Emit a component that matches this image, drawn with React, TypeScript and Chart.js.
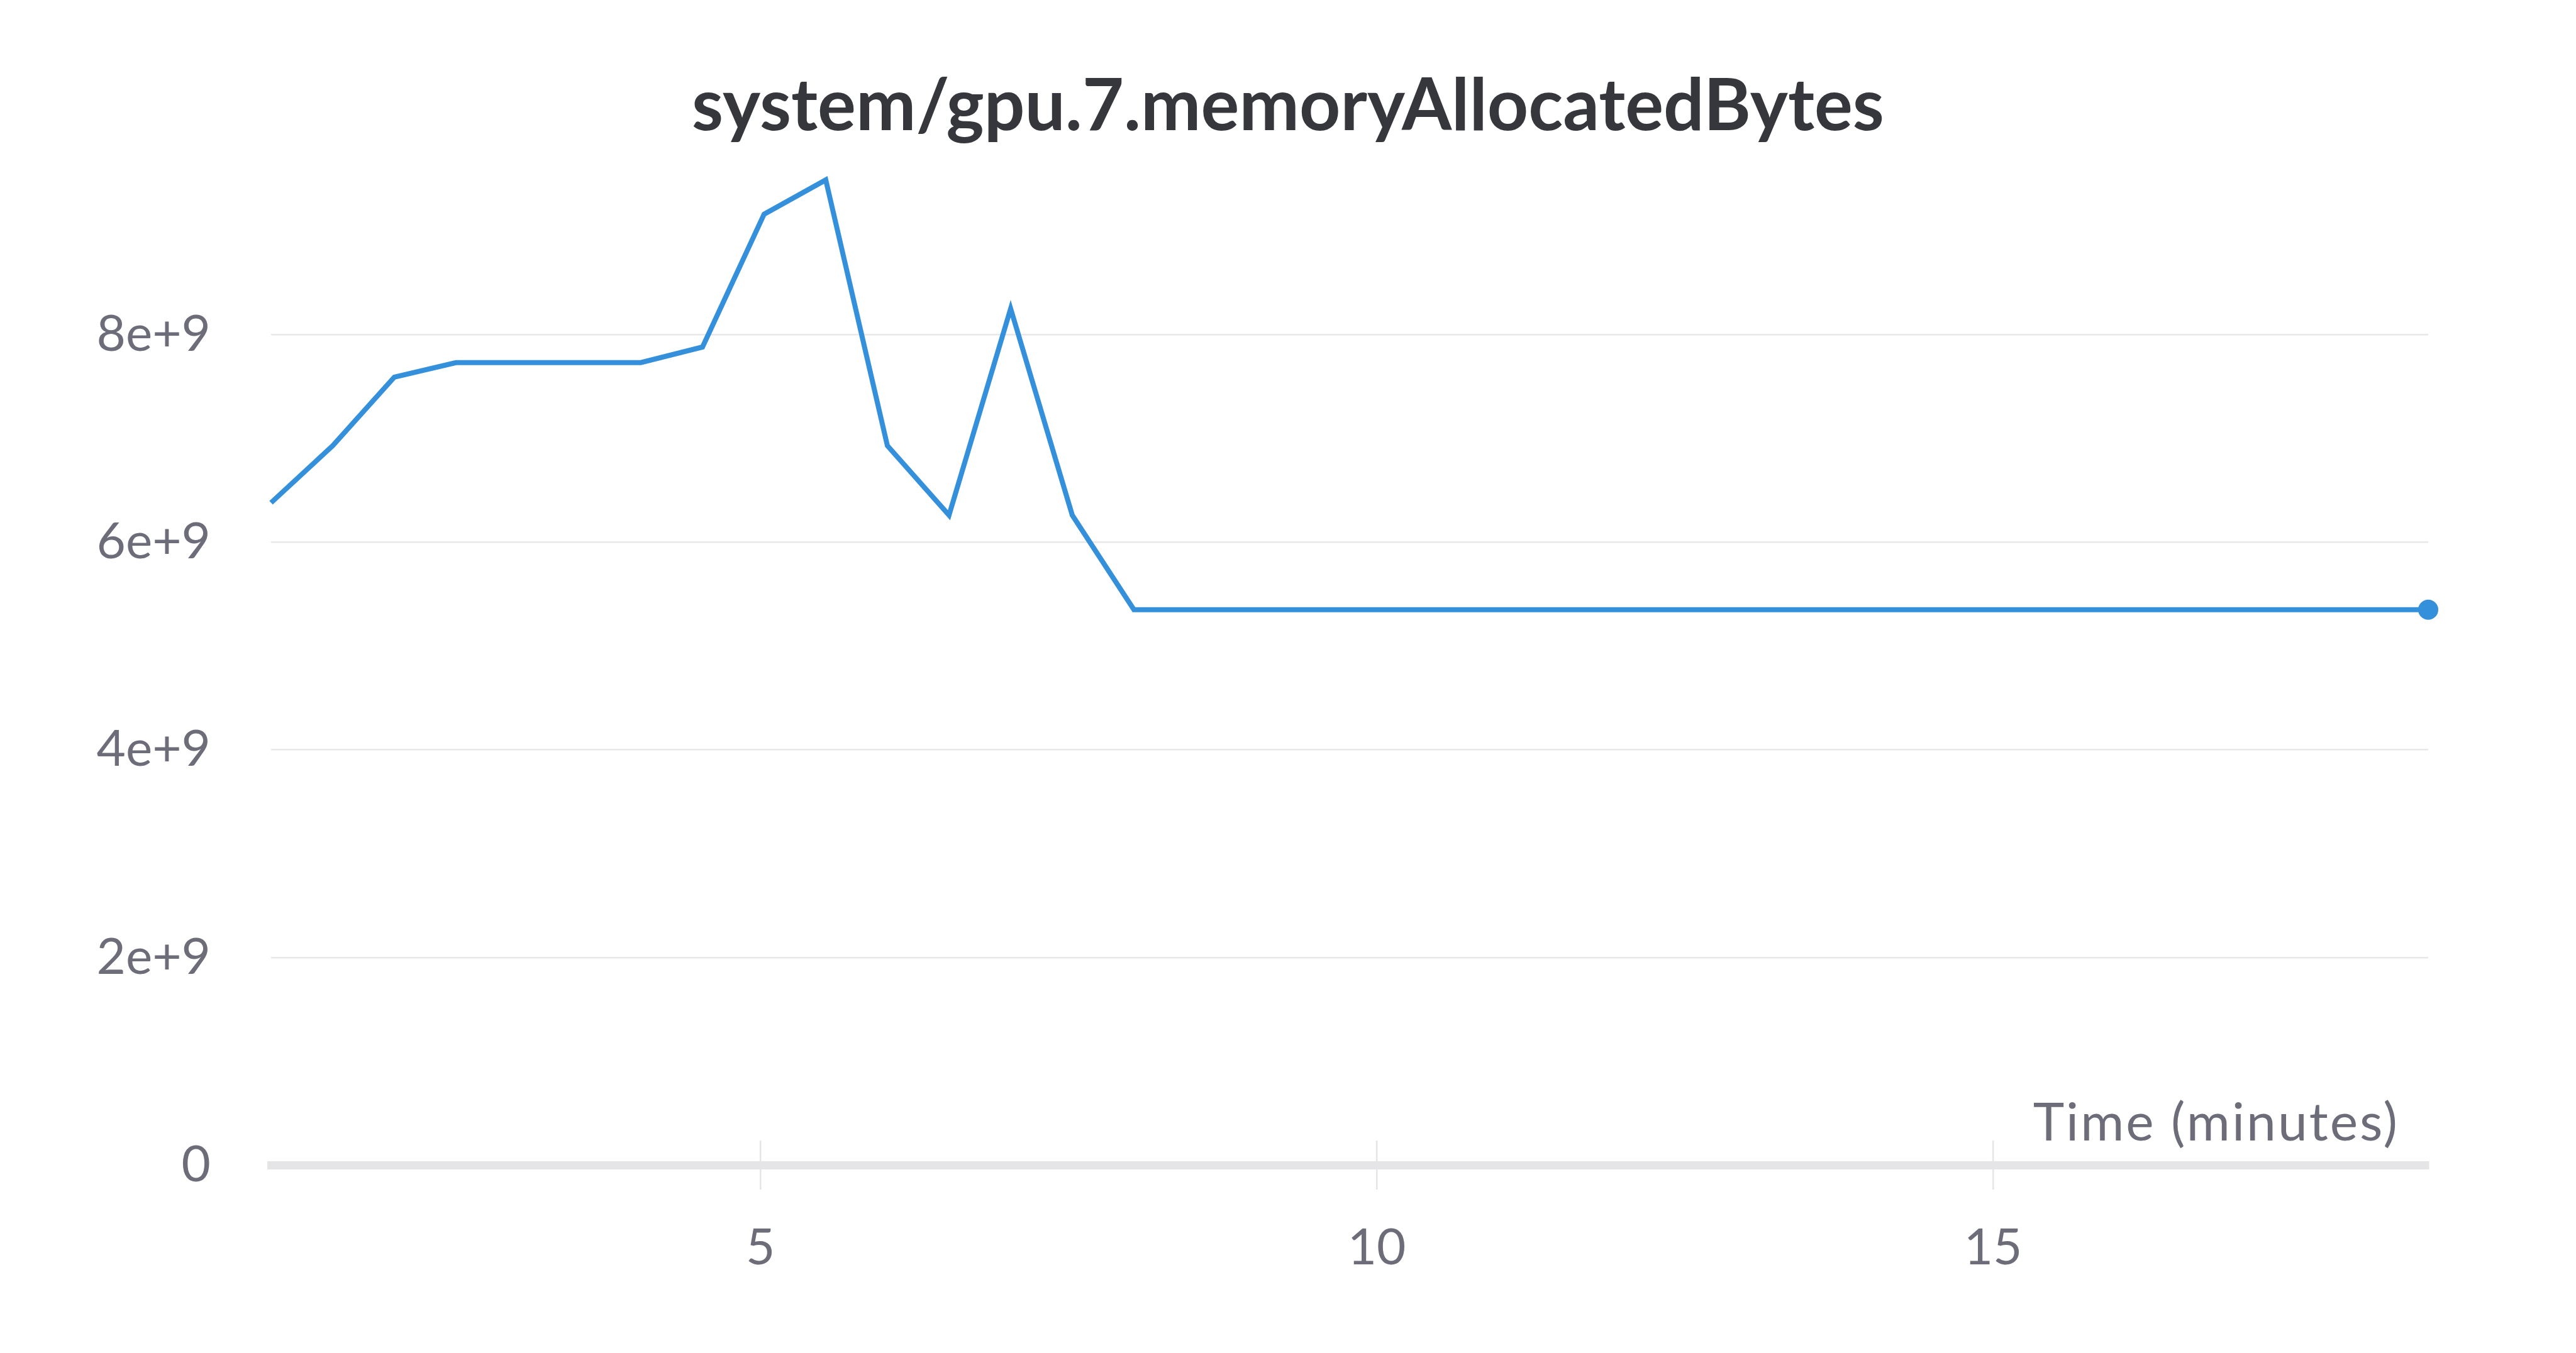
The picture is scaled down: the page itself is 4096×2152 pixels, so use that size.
import React, { useEffect, useRef } from 'react';
import { Chart, registerables } from 'chart.js';

Chart.register(...registerables);

const TITLE = 'system/gpu.7.memoryAllocatedBytes';
const X_LABEL = 'Time (minutes)';

const TIME_MIN = [
  1.03, 1.53, 2.03, 2.53, 3.03, 3.53, 4.03, 4.53, 5.03, 5.53, 6.03, 6.53,
  7.03, 7.53, 8.03, 8.53, 9.03, 9.53, 10.03, 10.53, 11.03, 11.53, 12.03,
  12.53, 13.03, 13.53, 14.03, 14.53, 15.03, 15.53, 16.03, 16.53, 17.03,
  17.53, 18.03, 18.53,
];

const MEMORY_BYTES = [
  6.38e9, 6.93e9, 7.59e9, 7.73e9, 7.73e9, 7.73e9, 7.73e9, 7.88e9, 9.16e9,
  9.49e9, 6.93e9, 6.26e9, 8.25e9, 6.26e9, 5.35e9, 5.35e9, 5.35e9, 5.35e9,
  5.35e9, 5.35e9, 5.35e9, 5.35e9, 5.35e9, 5.35e9, 5.35e9, 5.35e9, 5.35e9,
  5.35e9, 5.35e9, 5.35e9, 5.35e9, 5.35e9, 5.35e9, 5.35e9, 5.35e9, 5.35e9,
];

const X_TICKS = [5, 10, 15];
const Y_TICKS = [0, 2e9, 4e9, 6e9, 8e9];
const Y_TICK_LABELS = ['0', '2e+9', '4e+9', '6e+9', '8e+9'];

const X_MIN = 1.03;
const X_MAX = 18.53;
const Y_MIN = 0;
const Y_MAX = 9.6e9;

const FONT = 'Lato';
const LINE_COLOR = '#3590db';
const TITLE_COLOR = '#36373c';
const TICK_COLOR = '#6c6d79';
const GRID_COLOR = '#e8e8ea';
const AXIS_COLOR = '#e5e5e7';

const titlePlugin = {
  id: 'centeredTitle',
  afterDraw(chart: any) {
    const { ctx } = chart;
    ctx.save();
    ctx.fillStyle = TITLE_COLOR;
    ctx.font = `bold 114px ${FONT}`;
    ctx.textAlign = 'center';
    ctx.textBaseline = 'alphabetic';
    ctx.fillText(TITLE, chart.width / 2, 207);
    ctx.restore();
  },
};

const axisDecor = {
  id: 'axisDecor',
  beforeDatasetsDraw(chart: any) {
    const { ctx, chartArea, scales } = chart;
    ctx.save();
    ctx.strokeStyle = AXIS_COLOR;
    ctx.lineWidth = 2.5;
    for (const t of scales.x.ticks) {
      const px = scales.x.getPixelForValue(t.value);
      ctx.beginPath();
      ctx.moveTo(px, chartArea.bottom - 39);
      ctx.lineTo(px, chartArea.bottom);
      ctx.stroke();
    }
    ctx.fillStyle = TICK_COLOR;
    ctx.font = `84px ${FONT}`;
    (ctx as any).letterSpacing = '3px';
    ctx.textAlign = 'right';
    ctx.textBaseline = 'alphabetic';
    ctx.fillText(X_LABEL, chartArea.right - 46, chartArea.bottom - 39);
    ctx.restore();
  },
};

export default function App() {
  const ref = useRef<HTMLCanvasElement | null>(null);

  useEffect(() => {
    document.body.style.margin = '0';
    const canvas = ref.current;
    if (!canvas) return;
    const last = MEMORY_BYTES.length - 1;
    const chart = new Chart(canvas, {
      type: 'line',
      data: {
        datasets: [
          {
            data: TIME_MIN.map((t, i) => ({ x: t, y: MEMORY_BYTES[i] })),
            borderColor: LINE_COLOR,
            backgroundColor: LINE_COLOR,
            borderWidth: 8,
            pointRadius: (c: any) => (c.dataIndex === last ? 16 : 0),
            pointBorderWidth: 0,
            pointHoverRadius: 0,
            tension: 0,
            fill: false,
            clip: false as any,
          },
        ],
      },
      plugins: [axisDecor, titlePlugin],
      options: {
        responsive: false,
        devicePixelRatio: 1,
        animation: false,
        events: [],
        layout: { padding: { left: 100, right: 235, top: 268, bottom: 0 } },
        plugins: {
          legend: { display: false },
          tooltip: { enabled: false },
          title: { display: false },
        },
        scales: {
          x: {
            type: 'linear',
            min: X_MIN,
            max: X_MAX,
            afterBuildTicks: (s: any) => {
              s.ticks = X_TICKS.map((v) => ({ value: v }));
            },
            afterFit: (s: any) => {
              s.height = 299;
            },
            grid: {
              display: true,
              drawOnChartArea: false,
              drawTicks: true,
              tickLength: 39,
              color: AXIS_COLOR,
              lineWidth: 2.5,
            },
            border: { display: true, color: AXIS_COLOR, width: 13 },
            ticks: {
              color: TICK_COLOR,
              font: { family: FONT, size: 80 },
              padding: 45,
              maxRotation: 0,
              callback: (v: any) => String(v),
            },
          },
          y: {
            type: 'linear',
            min: Y_MIN,
            max: Y_MAX,
            afterBuildTicks: (s: any) => {
              s.ticks = Y_TICKS.map((v) => ({ value: v }));
            },
            afterFit: (s: any) => {
              s.width = 331;
            },
            grid: {
              display: true,
              drawOnChartArea: true,
              drawTicks: false,
              color: GRID_COLOR,
              lineWidth: 2.5,
            },
            border: { display: false },
            ticks: {
              color: TICK_COLOR,
              font: { family: FONT, size: 80 },
              padding: 96,
              callback: (v: any) => {
                const i = Y_TICKS.indexOf(Number(v));
                return i >= 0 ? Y_TICK_LABELS[i] : '';
              },
            },
          },
        },
      },
    });
    return () => chart.destroy();
  }, []);

  return (
    <canvas
      ref={ref}
      width={4096}
      height={2152}
      style={{ display: 'block', position: 'fixed', left: 0, top: 0, width: 4096, height: 2152 }}
    />
  );
}
